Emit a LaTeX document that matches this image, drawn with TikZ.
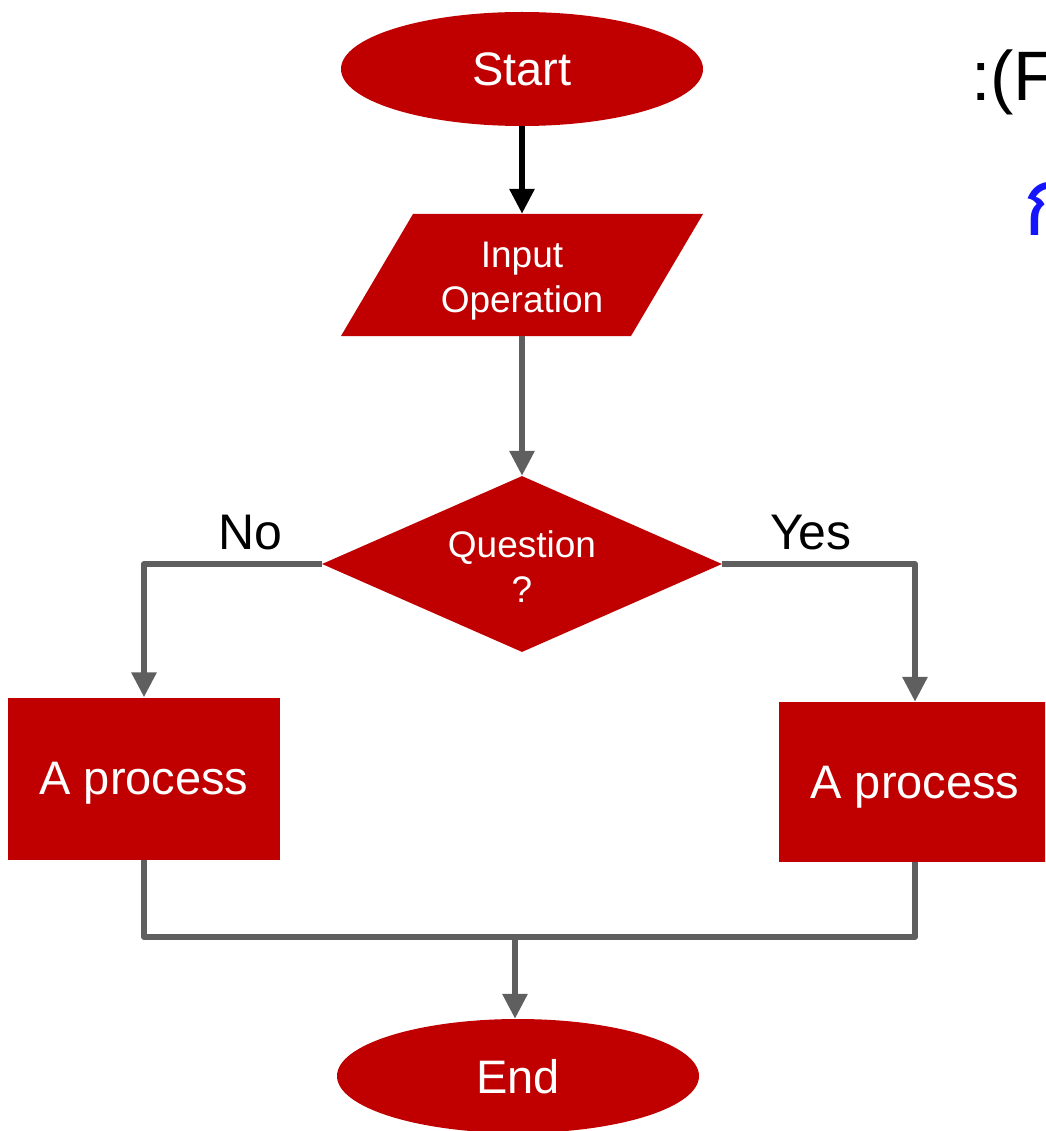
\documentclass[tikz,border=0pt]{standalone}
\usepackage{fontspec}
\setmainfont{Liberation Sans}
\newfontfamily\thaifont[Script=Thai]{Loma}
\usetikzlibrary{shapes.geometric,arrows.meta}
\definecolor{flowred}{RGB}{192,0,0}
\definecolor{flowgray}{RGB}{95,95,95}
\definecolor{noteblue}{RGB}{20,20,255}

\begin{document}
\begin{tikzpicture}[x=1pt,y=-1pt,
  base/.style={fill=flowred, text=white, inner sep=0pt, align=center},
  terminal/.style={base, ellipse, minimum width=362pt, minimum height=114pt,
    font=\fontsize{47}{52}\selectfont, text depth=0pt},
  procbox/.style={base, rectangle, minimum width=272pt, minimum height=162pt,
    font=\fontsize{47}{52}\selectfont, text depth=0pt},
  small/.style={font=\fontsize{37}{45}\selectfont},
  tip/.style={-{Triangle[width=24pt,length=25pt]}},
  flow/.style={line width=6pt, draw=flowgray, line join=round, tip},
  mergeline/.style={line width=6pt, draw=flowgray, line join=round},
  branch/.style={font=\fontsize{50}{55}\selectfont, inner sep=0pt, above=11pt}
]
\useasboundingbox (0,0) rectangle (1045,1131);
\clip (0,0) rectangle (1045,1131);

% terminals
\node[terminal] (start) at (522,69) {Start};
\node[terminal] (end) at (518,1076) {End};

% input parallelogram
\fill[flowred] (413,214) -- (703,214) -- (631,336) -- (341,336) -- cycle;
\node[base, fill=none, small, minimum width=290pt, minimum height=122pt] (inp) at (522,275) {};
\node[base, fill=none, small] (inptext) at (522,281) {Input\\Operation};

% decision
\node[base, diamond, small, minimum width=400pt, minimum height=176pt, aspect=2.27] (q) at (522,564) {};
\node[base, fill=none, small] (qtext) at (522,567) {Question\\?};

% processes
\node[procbox] (lp) at (144,778.5) {A process};
\node[procbox, minimum height=160pt] (rp) at (915,782) {A process};

% merge point
\coordinate (m) at (515,937);

% connectors
\draw[line width=6pt, tip] (start.south) -- (inp.north);
\draw[flow] (inp.south) -- (q.north);
\draw[flow] (q.west) -| node[branch, pos=0.2] {No} (lp.north);
\draw[flow] (q.east) -| node[branch, pos=0.23] {Yes} (rp.north);
\draw[mergeline] (lp.south) |- (m);
\draw[mergeline] (rp.south) |- (m);
\draw[flow] (m) -- (m |- end.north);

% heading fragments at the right edge
\node[anchor=base west, inner sep=0pt, font=\fontsize{70}{80}\selectfont] (head) at (971,101) {:(F};
\node[anchor=base west, inner sep=0pt, text=noteblue, font=\thaifont\fontsize{95}{100}\selectfont] (thai) at (1022,236) {ก};
\end{tikzpicture}
\end{document}
